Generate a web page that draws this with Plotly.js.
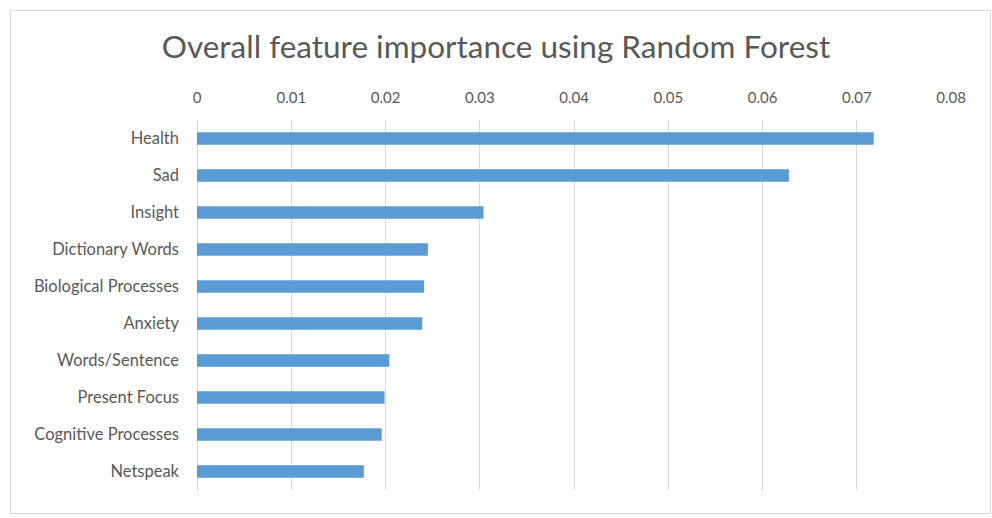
<!DOCTYPE html>
<html>
<head>
<meta charset="utf-8">
<script src="https://cdn.plot.ly/plotly-3.0.1.min.js"></script>
<style>
  html, body { margin: 0; padding: 0; background: #ffffff; }
  #wrap { position: relative; width: 992px; height: 518px; }
  #chart { position: absolute; left: 0; top: 0; width: 992px; height: 518px; }
  #frame { position: absolute; left: 10px; top: 10px; width: 979px; height: 502px;
           border: 1px solid #d9d9d9; pointer-events: none; }
</style>
</head>
<body>
<div id="wrap">
  <div id="chart"></div>
  <div id="frame"></div>
</div>
<script>
// Feature names, ordered from most to least important
const features = [
  "Health",
  "Sad",
  "Insight",
  "Dictionary Words",
  "Biological Processes",
  "Anxiety",
  "Words/Sentence",
  "Present Focus",
  "Cognitive Processes",
  "Netspeak"
];

// Random Forest importance score per feature
const importance = [
  0.0718,
  0.0628,
  0.0304,
  0.0245,
  0.0241,
  0.0239,
  0.0204,
  0.0199,
  0.0196,
  0.0177
];

const xTickValues = [0, 0.01, 0.02, 0.03, 0.04, 0.05, 0.06, 0.07, 0.08];
const xTickLabels = ["0", "0.01", "0.02", "0.03", "0.04", "0.05", "0.06", "0.07", "0.08"];

const textGrey = "#595959";
const gridGrey = "#d9d9d9";

const trace = {
  type: "bar",
  orientation: "h",
  x: importance,
  y: features,
  marker: { color: "#5b9bd5" },
  hoverinfo: "x+y"
};

const layout = {
  width: 992,
  height: 518,
  paper_bgcolor: "#ffffff",
  plot_bgcolor: "#ffffff",
  margin: { l: 197, r: 41, t: 120, b: 28 },
  bargap: 0.66,
  showlegend: false,
  font: { family: "Lato, 'Open Sans', sans-serif", color: textGrey, size: 15 },
  title: {
    text: "Overall feature importance using Random Forest",
    font: { family: "Lato, 'Open Sans', sans-serif", size: 31.5, color: textGrey },
    x: 0.5,
    xanchor: "center",
    y: 1 - 47 / 518,
    yanchor: "middle"
  },
  xaxis: {
    side: "top",
    range: [0, 0.08],
    tickvals: xTickValues,
    ticktext: xTickLabels,
    showgrid: true,
    gridcolor: gridGrey,
    gridwidth: 1,
    zeroline: true,
    zerolinecolor: gridGrey,
    zerolinewidth: 1,
    showline: false,
    ticks: "",
    ticklabelstandoff: 13,
    tickfont: { size: 15, color: textGrey },
    fixedrange: true
  },
  yaxis: {
    type: "category",
    autorange: "reversed",
    showgrid: false,
    zeroline: false,
    showline: false,
    ticks: "",
    ticklabelstandoff: 17,
    tickfont: { size: 16.5, color: textGrey },
    fixedrange: true
  }
};

Plotly.newPlot("chart", [trace], layout, { displayModeBar: false, staticPlot: true });
</script>
</body>
</html>
